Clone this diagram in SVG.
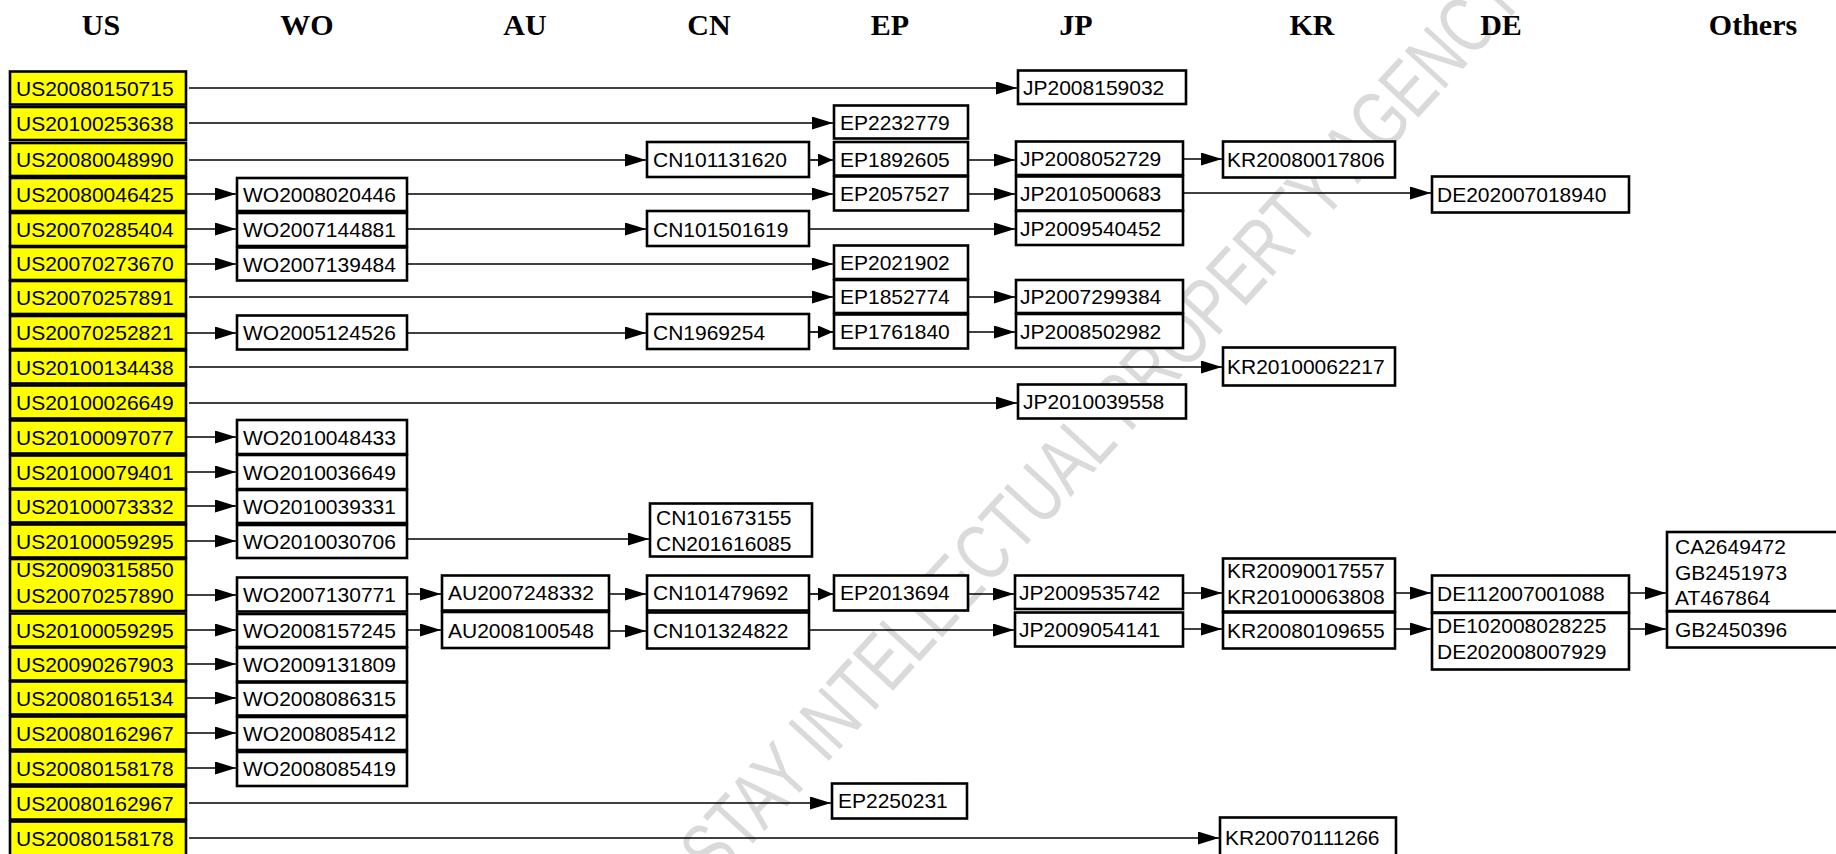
<svg xmlns="http://www.w3.org/2000/svg" width="1836" height="854" viewBox="0 0 1836 854">
<defs>
<style>
.us{fill:#ffff00;stroke:#000;stroke-width:2.6}
.bx{fill:#fff;stroke:#000;stroke-width:2.6}
.t{font-family:"Liberation Sans",Arial,sans-serif;font-size:21px;fill:#000}
.h{font-family:"Liberation Serif","Times New Roman",serif;font-size:30px;font-weight:bold;fill:#000;text-anchor:middle}
.c{fill:none;stroke:#000;stroke-width:1.7;marker-end:url(#ah)}
.cs{fill:none;stroke:#000;stroke-width:1.7;marker-end:url(#ahs)}
.wm{font-family:"Liberation Sans",Arial,sans-serif;font-size:80px;fill:#dadada}
</style>
<marker id="ah" markerUnits="userSpaceOnUse" markerWidth="21" markerHeight="13" refX="21" refY="6.5" orient="auto"><path d="M0,0 L21,6.5 L0,13 z" fill="#000"/></marker>
<marker id="ahs" markerUnits="userSpaceOnUse" markerWidth="15" markerHeight="13" refX="15" refY="6.5" orient="auto"><path d="M0,0 L15,6.5 L0,13 z" fill="#000"/></marker>
</defs>
<rect width="1836" height="854" fill="#fff"/>
<text class="wm" transform="translate(716,884) rotate(-47.5)" textLength="1200" lengthAdjust="spacingAndGlyphs">STAY INTELLECTUAL PROPERTY AGENCY</text>
<g id="headers">
<text class="h" x="101" y="35">US</text>
<text class="h" x="307" y="35">WO</text>
<text class="h" x="525" y="35">AU</text>
<text class="h" x="709" y="35">CN</text>
<text class="h" x="890" y="35">EP</text>
<text class="h" x="1076" y="35">JP</text>
<text class="h" x="1312" y="35">KR</text>
<text class="h" x="1501" y="35">DE</text>
<text class="h" x="1753" y="35">Others</text>
</g>
<g id="connectors">
<path class="c" d="M189,88 H1017"/>
<path class="c" d="M189,123 H833"/>
<path class="c" d="M189,160 H646"/>
<path class="cs" d="M809,160 H833"/>
<path class="c" d="M968,160 H1015"/>
<path class="c" d="M1183,159 H1222"/>
<path class="c" d="M186,194 H236"/>
<path class="c" d="M407,194 H833"/>
<path class="c" d="M968,194 H1015"/>
<path class="c" d="M1183,193 H1431"/>
<path class="c" d="M186,229 H236"/>
<path class="c" d="M407,229 H646"/>
<path class="c" d="M809,229 H1015"/>
<path class="c" d="M186,264 H236"/>
<path class="c" d="M407,264 H833"/>
<path class="c" d="M189,297 H833"/>
<path class="c" d="M968,297 H1015"/>
<path class="c" d="M186,333 H236"/>
<path class="c" d="M407,333 H646"/>
<path class="cs" d="M809,332 H833"/>
<path class="c" d="M968,332 H1015"/>
<path class="c" d="M189,367 H1222"/>
<path class="c" d="M189,403 H1017"/>
<path class="c" d="M186,437 H236"/>
<path class="c" d="M186,472 H236"/>
<path class="c" d="M186,506 H236"/>
<path class="c" d="M186,541 H236"/>
<path class="c" d="M407,539 H649"/>
<path class="c" d="M186,595 H236"/>
<path class="c" d="M407,594 H441"/>
<path class="c" d="M609,594 H646"/>
<path class="cs" d="M809,594 H833"/>
<path class="c" d="M968,594 H1014"/>
<path class="c" d="M1183,593 H1222"/>
<path class="c" d="M1395,593 H1431"/>
<path class="c" d="M1629,593 H1666"/>
<path class="c" d="M186,630 H236"/>
<path class="c" d="M407,630 H441"/>
<path class="c" d="M609,631 H646"/>
<path class="c" d="M809,630 H1014"/>
<path class="c" d="M1183,629 H1222"/>
<path class="c" d="M1395,629 H1431"/>
<path class="c" d="M1629,629 H1666"/>
<path class="c" d="M186,664 H236"/>
<path class="c" d="M186,698 H236"/>
<path class="c" d="M186,733 H236"/>
<path class="c" d="M186,768 H236"/>
<path class="c" d="M189,803 H831"/>
<path class="c" d="M189,838 H1219"/>
</g>
<g id="us-nodes">
<g id="us1"><rect class="us" x="10" y="71.5" width="176" height="33"/><text class="t" x="16" y="95.5">US20080150715</text></g>
<g id="us2"><rect class="us" x="10" y="107" width="176" height="33"/><text class="t" x="16" y="131">US20100253638</text></g>
<g id="us3"><rect class="us" x="10" y="143" width="176" height="33"/><text class="t" x="16" y="167">US20080048990</text></g>
<g id="us4"><rect class="us" x="10" y="178" width="176" height="33"/><text class="t" x="16" y="202">US20080046425</text></g>
<g id="us5"><rect class="us" x="10" y="213" width="176" height="33"/><text class="t" x="16" y="237">US20070285404</text></g>
<g id="us6"><rect class="us" x="10" y="247" width="176" height="33"/><text class="t" x="16" y="271">US20070273670</text></g>
<g id="us7"><rect class="us" x="10" y="281" width="176" height="33"/><text class="t" x="16" y="305">US20070257891</text></g>
<g id="us8"><rect class="us" x="10" y="316" width="176" height="33"/><text class="t" x="16" y="340">US20070252821</text></g>
<g id="us9"><rect class="us" x="10" y="350.5" width="176" height="33"/><text class="t" x="16" y="374.5">US20100134438</text></g>
<g id="us10"><rect class="us" x="10" y="385.5" width="176" height="33"/><text class="t" x="16" y="409.5">US20100026649</text></g>
<g id="us11"><rect class="us" x="10" y="420.5" width="176" height="33"/><text class="t" x="16" y="444.5">US20100097077</text></g>
<g id="us12"><rect class="us" x="10" y="455.5" width="176" height="33"/><text class="t" x="16" y="479.5">US20100079401</text></g>
<g id="us13"><rect class="us" x="10" y="489.5" width="176" height="33"/><text class="t" x="16" y="513.5">US20100073332</text></g>
<g id="us14"><rect class="us" x="10" y="524.5" width="176" height="33"/><text class="t" x="16" y="548.5">US20100059295</text></g>
<g id="us15"><rect class="us" x="10" y="559" width="176" height="52"/><text class="t" x="16" y="577">US20090315850</text><text class="t" x="16" y="603">US20070257890</text></g>
<g id="us16"><rect class="us" x="10" y="613.5" width="176" height="33"/><text class="t" x="16" y="637.5">US20100059295</text></g>
<g id="us17"><rect class="us" x="10" y="647.5" width="176" height="33"/><text class="t" x="16" y="671.5">US20090267903</text></g>
<g id="us18"><rect class="us" x="10" y="681.5" width="176" height="33"/><text class="t" x="16" y="705.5">US20080165134</text></g>
<g id="us19"><rect class="us" x="10" y="716.5" width="176" height="33"/><text class="t" x="16" y="740.5">US20080162967</text></g>
<g id="us20"><rect class="us" x="10" y="751.5" width="176" height="33"/><text class="t" x="16" y="775.5">US20080158178</text></g>
<g id="us21"><rect class="us" x="10" y="786.5" width="176" height="33"/><text class="t" x="16" y="810.5">US20080162967</text></g>
<g id="us22"><rect class="us" x="10" y="821.5" width="176" height="40"/><text class="t" x="16" y="845.5">US20080158178</text></g>
</g>
<g id="wo-nodes">
<g id="wo1"><rect class="bx" x="237" y="178" width="170" height="33"/><text class="t" x="243" y="202">WO2008020446</text></g>
<g id="wo2"><rect class="bx" x="237" y="213" width="170" height="33"/><text class="t" x="243" y="237">WO2007144881</text></g>
<g id="wo3"><rect class="bx" x="237" y="247.5" width="170" height="33"/><text class="t" x="243" y="271.5">WO2007139484</text></g>
<g id="wo4"><rect class="bx" x="237" y="315.5" width="170" height="34"/><text class="t" x="243" y="340">WO2005124526</text></g>
<g id="wo5"><rect class="bx" x="237" y="420" width="170" height="34"/><text class="t" x="243" y="444.5">WO2010048433</text></g>
<g id="wo6"><rect class="bx" x="237" y="455" width="170" height="34"/><text class="t" x="243" y="479.5">WO2010036649</text></g>
<g id="wo7"><rect class="bx" x="237" y="490" width="170" height="33"/><text class="t" x="243" y="514">WO2010039331</text></g>
<g id="wo8"><rect class="bx" x="237" y="525" width="170" height="33"/><text class="t" x="243" y="549">WO2010030706</text></g>
<g id="wo9"><rect class="bx" x="237" y="577.5" width="170" height="34"/><text class="t" x="243" y="602">WO2007130771</text></g>
<g id="wo10"><rect class="bx" x="237" y="614" width="170" height="33"/><text class="t" x="243" y="638">WO2008157245</text></g>
<g id="wo11"><rect class="bx" x="237" y="648" width="170" height="33.5"/><text class="t" x="243" y="672">WO2009131809</text></g>
<g id="wo12"><rect class="bx" x="237" y="682.5" width="170" height="33"/><text class="t" x="243" y="706">WO2008086315</text></g>
<g id="wo13"><rect class="bx" x="237" y="717" width="170" height="33"/><text class="t" x="243" y="741">WO2008085412</text></g>
<g id="wo14"><rect class="bx" x="237" y="752" width="170" height="34"/><text class="t" x="243" y="776">WO2008085419</text></g>
</g>
<g id="au-nodes">
<g id="au1"><rect class="bx" x="442" y="575.5" width="167" height="35"/><text class="t" x="448" y="600">AU2007248332</text></g>
<g id="au2"><rect class="bx" x="442" y="612" width="167" height="36"/><text class="t" x="448" y="637.5">AU2008100548</text></g>
</g>
<g id="cn-nodes">
<g id="cn1"><rect class="bx" x="647" y="142" width="162" height="35"/><text class="t" x="653" y="167">CN101131620</text></g>
<g id="cn2"><rect class="bx" x="647" y="211" width="162" height="35"/><text class="t" x="653" y="236.5">CN101501619</text></g>
<g id="cn3"><rect class="bx" x="647" y="314" width="162" height="35"/><text class="t" x="653" y="339.5">CN1969254</text></g>
<g id="cn4"><rect class="bx" x="650" y="503.5" width="162" height="53"/><text class="t" x="656" y="525">CN101673155</text><text class="t" x="656" y="551">CN201616085</text></g>
<g id="cn5"><rect class="bx" x="647" y="575.5" width="162" height="35"/><text class="t" x="653" y="600">CN101479692</text></g>
<g id="cn6"><rect class="bx" x="647" y="612.5" width="162" height="36"/><text class="t" x="653" y="638">CN101324822</text></g>
</g>
<g id="ep-nodes">
<g id="ep1"><rect class="bx" x="834" y="105.5" width="134" height="33"/><text class="t" x="840" y="129.5">EP2232779</text></g>
<g id="ep2"><rect class="bx" x="834" y="142" width="134" height="33.5"/><text class="t" x="840" y="166.5">EP1892605</text></g>
<g id="ep3"><rect class="bx" x="834" y="176.5" width="134" height="34"/><text class="t" x="840" y="201">EP2057527</text></g>
<g id="ep4"><rect class="bx" x="834" y="245.5" width="134" height="33.5"/><text class="t" x="840" y="270">EP2021902</text></g>
<g id="ep5"><rect class="bx" x="834" y="280" width="134" height="33"/><text class="t" x="840" y="304">EP1852774</text></g>
<g id="ep6"><rect class="bx" x="834" y="314.5" width="134" height="34"/><text class="t" x="840" y="339">EP1761840</text></g>
<g id="ep7"><rect class="bx" x="834" y="575.5" width="134" height="35"/><text class="t" x="840" y="600">EP2013694</text></g>
<g id="ep8"><rect class="bx" x="832" y="783.5" width="135" height="35"/><text class="t" x="838" y="808">EP2250231</text></g>
</g>
<g id="jp-nodes">
<g id="jp1"><rect class="bx" x="1018" y="70.5" width="168" height="33.5"/><text class="t" x="1023" y="95">JP2008159032</text></g>
<g id="jp2"><rect class="bx" x="1016" y="141.5" width="167" height="33.5"/><text class="t" x="1020" y="166">JP2008052729</text></g>
<g id="jp3"><rect class="bx" x="1016" y="176.5" width="167" height="34"/><text class="t" x="1020" y="201">JP2010500683</text></g>
<g id="jp4"><rect class="bx" x="1016" y="211" width="167" height="34"/><text class="t" x="1020" y="235.5">JP2009540452</text></g>
<g id="jp5"><rect class="bx" x="1016" y="280" width="167" height="33"/><text class="t" x="1020" y="304">JP2007299384</text></g>
<g id="jp6"><rect class="bx" x="1016" y="314" width="167" height="34"/><text class="t" x="1020" y="338.5">JP2008502982</text></g>
<g id="jp7"><rect class="bx" x="1018" y="384.5" width="168" height="34"/><text class="t" x="1023" y="409">JP2010039558</text></g>
<g id="jp8"><rect class="bx" x="1015" y="575.5" width="168" height="33.5"/><text class="t" x="1019" y="599.5">JP2009535742</text></g>
<g id="jp9"><rect class="bx" x="1015" y="612.5" width="168" height="34"/><text class="t" x="1019" y="637">JP2009054141</text></g>
</g>
<g id="kr-nodes">
<g id="kr1"><rect class="bx" x="1223" y="141.5" width="172" height="36"/><text class="t" x="1227" y="166.5">KR20080017806</text></g>
<g id="kr2"><rect class="bx" x="1223" y="347.5" width="172" height="38"/><text class="t" x="1227" y="374">KR20100062217</text></g>
<g id="kr3"><rect class="bx" x="1223" y="558.5" width="172" height="53"/><text class="t" x="1227" y="578">KR20090017557</text><text class="t" x="1227" y="604">KR20100063808</text></g>
<g id="kr4"><rect class="bx" x="1223" y="612.5" width="172" height="36"/><text class="t" x="1227" y="637.5">KR20080109655</text></g>
<g id="kr5"><rect class="bx" x="1220" y="817.5" width="176" height="45"/><text class="t" x="1225" y="845">KR20070111266</text></g>
</g>
<g id="de-nodes">
<g id="de1"><rect class="bx" x="1432" y="176.5" width="197" height="36"/><text class="t" x="1437" y="201.5">DE202007018940</text></g>
<g id="de2"><rect class="bx" x="1432" y="575.5" width="197" height="37"/><text class="t" x="1437" y="600.5">DE112007001088</text></g>
<g id="de3"><rect class="bx" x="1432" y="613" width="197" height="56.5"/><text class="t" x="1437" y="633">DE102008028225</text><text class="t" x="1437" y="659">DE202008007929</text></g>
</g>
<g id="others-nodes">
<g id="ot1"><rect class="bx" x="1667" y="532" width="180" height="79"/><text class="t" x="1675" y="554">CA2649472</text><text class="t" x="1675" y="579.5">GB2451973</text><text class="t" x="1675" y="605">AT467864</text></g>
<g id="ot2"><rect class="bx" x="1667" y="611.5" width="180" height="36"/><text class="t" x="1675" y="636.5">GB2450396</text></g>
</g>
</svg>
